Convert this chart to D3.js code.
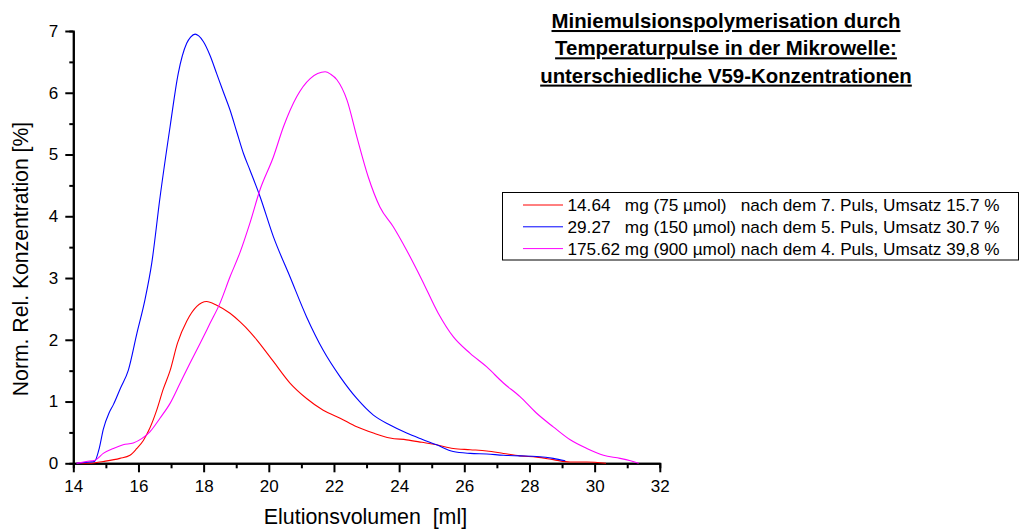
<!DOCTYPE html>
<html>
<head>
<meta charset="utf-8">
<script src="https://cdn.jsdelivr.net/npm/d3@7/dist/d3.min.js"></script>
<style>
  html, body { margin: 0; padding: 0; background: #fff; }
  svg { display: block; font-family: Arial, "Liberation Sans", sans-serif; }
</style>
</head>
<body>
<svg id="chart" width="1020" height="530"></svg>
<script>
// Elution volume (ml) and normalised relative concentration (%) per sample
const redX  = [14.1, 14.5, 14.92, 15.43, 15.74, 15.95, 16.15, 16.35, 16.56, 16.76, 16.97, 17.2, 17.48, 17.79, 18.09, 18.4, 18.81, 19.12, 19.42, 19.63, 20.14, 20.65, 21.16, 21.67, 22.19, 22.7, 23.21, 23.72, 24.23, 24.7, 25.15, 25.66, 26.18, 26.69, 27.2, 27.71, 28.22, 28.73, 29.25, 29.76, 30.35];
const redY  = [0.0, 0.0, 0.03, 0.08, 0.13, 0.24, 0.37, 0.57, 0.86, 1.2, 1.5, 1.95, 2.3, 2.54, 2.62, 2.56, 2.43, 2.29, 2.13, 2.0, 1.65, 1.3, 1.05, 0.86, 0.73, 0.59, 0.49, 0.41, 0.38, 0.34, 0.3, 0.24, 0.22, 0.2, 0.16, 0.12, 0.1, 0.06, 0.02, 0.02, 0.0];

const blueX = [14.1, 14.5, 14.65, 14.8, 14.92, 15.1, 15.23, 15.45, 15.69, 15.95, 16.2, 16.41, 16.66, 16.97, 17.22, 17.48, 17.6, 17.74, 17.85, 17.99, 18.2, 18.4, 18.6, 18.81, 19.02, 19.22, 19.42, 19.73, 20.14, 20.65, 21.16, 21.67, 22.19, 22.7, 23.21, 23.72, 24.23, 24.7, 25.15, 25.66, 26.18, 26.69, 27.2, 27.71, 28.22, 28.73, 29.1];
const blueY = [0.0, 0.02, 0.03, 0.25, 0.55, 0.82, 0.95, 1.22, 1.51, 2.1, 2.65, 3.25, 4.3, 5.45, 6.31, 6.8, 6.9, 6.95, 6.92, 6.83, 6.6, 6.31, 6.02, 5.72, 5.36, 5.02, 4.75, 4.32, 3.67, 3.02, 2.37, 1.83, 1.4, 1.05, 0.78, 0.62, 0.49, 0.39, 0.3, 0.19, 0.16, 0.15, 0.13, 0.12, 0.11, 0.08, 0.04];

const magX  = [14.1, 14.4, 14.67, 14.92, 15.23, 15.53, 15.84, 16.1, 16.35, 16.66, 16.97, 17.28, 17.58, 17.89, 18.2, 18.5, 18.81, 19.12, 19.42, 19.73, 20.14, 20.45, 20.86, 21.27, 21.5, 21.73, 21.9, 22.09, 22.4, 22.7, 23.05, 23.41, 23.82, 24.23, 24.7, 25.2, 25.66, 26.18, 26.69, 27.2, 27.71, 28.22, 28.73, 29.25, 29.76, 30.27, 30.78, 31.1, 31.35];
const magY  = [0.0, 0.03, 0.05, 0.16, 0.24, 0.3, 0.33, 0.4, 0.51, 0.73, 0.97, 1.3, 1.62, 1.94, 2.27, 2.59, 3.02, 3.42, 3.89, 4.43, 4.96, 5.45, 5.94, 6.23, 6.31, 6.34, 6.3, 6.21, 5.88, 5.29, 4.64, 4.15, 3.83, 3.45, 2.97, 2.43, 2.05, 1.78, 1.56, 1.3, 1.08, 0.81, 0.59, 0.38, 0.24, 0.13, 0.08, 0.04, 0.0];

const seriesNames = [
  "14.64   mg (75 µmol)   nach dem 7. Puls, Umsatz 15.7 %",
  "29.27   mg (150 µmol) nach dem 5. Puls, Umsatz 30.7 %",
  "175.62 mg (900 µmol) nach dem 4. Puls, Umsatz 39,8 %"
];
const seriesColors = ["#ff0000", "#0000ff", "#ff00ff"];

const xMajorTicks = [14, 16, 18, 20, 22, 24, 26, 28, 30, 32];
const xMinorTicks = [15, 17, 19, 21, 23, 25, 27, 29, 31];
const yMajorTicks = [0, 1, 2, 3, 4, 5, 6, 7];
const yMinorTicks = [0.5, 1.5, 2.5, 3.5, 4.5, 5.5, 6.5];

const titleLines = [
  "Miniemulsionspolymerisation durch",
  "Temperaturpulse in der Mikrowelle:",
  "unterschiedliche V59-Konzentrationen"
];
const xTitle = "Elutionsvolumen  [ml]";
const yTitle = "Norm. Rel. Konzentration [%]";

const svg = d3.select("#chart");

const x = d3.scaleLinear().domain([14, 32]).range([73.3, 659.8]);
const y = d3.scaleLinear().domain([0, 7]).range([463.3, 31]);

// Axes: minor ticks first, then labelled major ticks
function styleAxis(g) {
  g.select(".domain").attr("stroke", "#000").attr("stroke-width", 2);
  g.selectAll(".tick line").attr("stroke", "#000").attr("stroke-width", 2);
  g.selectAll(".tick text").attr("fill", "#000").attr("font-size", 17)
    .attr("font-family", "Arial, 'Liberation Sans', sans-serif");
}

svg.append("g").attr("transform", `translate(0,${y(0)})`)
  .call(d3.axisBottom(x).tickValues(xMinorTicks).tickSize(5).tickFormat(""))
  .call(styleAxis);
svg.append("g").attr("transform", `translate(0,${y(0)})`)
  .call(d3.axisBottom(x).tickValues(xMajorTicks).tickSize(9).tickSizeOuter(0).tickPadding(8).tickFormat(d3.format("d")))
  .call(styleAxis);

svg.append("g").attr("transform", `translate(${x(14)},0)`)
  .call(d3.axisLeft(y).tickValues(yMinorTicks).tickSize(4).tickFormat(""))
  .call(styleAxis);
svg.append("g").attr("transform", `translate(${x(14)},0)`)
  .call(d3.axisLeft(y).tickValues(yMajorTicks).tickSize(8).tickSizeOuter(0).tickPadding(7).tickFormat(d3.format("d")))
  .call(styleAxis);

// Axis titles
svg.append("text")
  .attr("x", 365.5).attr("y", 524)
  .attr("text-anchor", "middle")
  .attr("font-size", 21.4)
  .style("white-space", "pre")
  .text(xTitle);

svg.append("text")
  .attr("transform", "translate(28,259) rotate(-90)")
  .attr("text-anchor", "middle")
  .attr("font-size", 21.2)
  .text(yTitle);

// Curves
const line = d3.line()
  .x(d => x(d[0]))
  .y(d => y(d[1]))
  .curve(d3.curveMonotoneX);

const series = [
  d3.zip(redX, redY),
  d3.zip(blueX, blueY),
  d3.zip(magX, magY)
];

svg.append("g").selectAll("path")
  .data(series)
  .join("path")
  .attr("d", line)
  .attr("fill", "none")
  .attr("stroke", (d, i) => seriesColors[i])
  .attr("stroke-width", 1.1);

// Title, bold and underlined
const title = svg.append("g");
titleLines.forEach((t, i) => {
  title.append("text")
    .attr("x", 726).attr("y", 28 + i * 27.3)
    .attr("text-anchor", "middle")
    .attr("font-size", 20.4)
    .attr("font-weight", "bold")
    .attr("text-decoration", "underline")
    .text(t);
});

// Legend box
const legend = svg.append("g");
legend.append("rect")
  .attr("x", 502.5).attr("y", 192.5)
  .attr("width", 516).attr("height", 67.5)
  .attr("fill", "#fff").attr("stroke", "#000").attr("stroke-width", 1);

seriesNames.forEach((name, i) => {
  const ly = 205 + i * 21.8;
  legend.append("line")
    .attr("x1", 523).attr("x2", 563)
    .attr("y1", ly).attr("y2", ly)
    .attr("stroke", seriesColors[i]).attr("stroke-width", 1);
  legend.append("text")
    .attr("x", 567.5).attr("y", ly + 6)
    .attr("font-size", 17.2)
    .style("white-space", "pre")
    .text(name);
});
</script>
</body>
</html>
